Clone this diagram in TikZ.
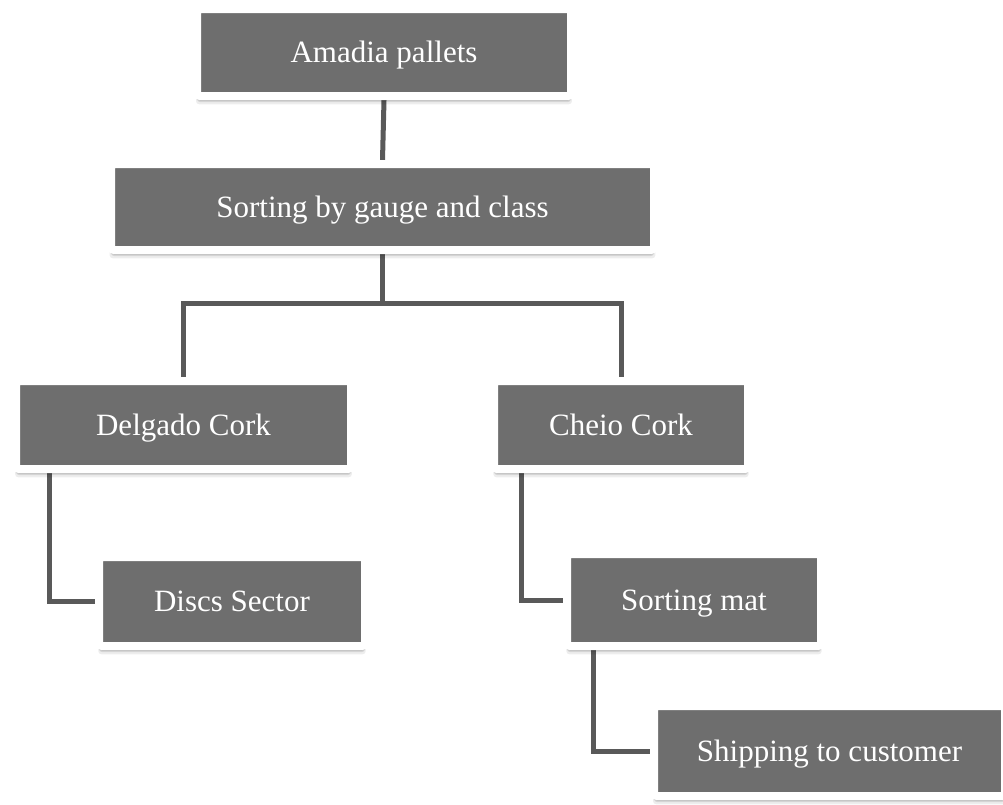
\documentclass[tikz,border=0pt]{standalone}
\usepackage{fontspec}
\setmainfont{Liberation Serif}
\usetikzlibrary{shadows,backgrounds}
\definecolor{boxgray}{HTML}{6E6E6E}
\definecolor{linegray}{HTML}{595959}
\tikzset{
  box/.style={draw=white, line width=8pt, fill=boxgray, text=white, rounded corners=3pt,
    inner sep=0pt, font=\fontsize{31}{36}\selectfont, text height=24pt, text depth=4pt,
    drop shadow={shadow xshift=0pt, shadow yshift=-8pt, shadow scale=1.005, opacity=0.07, fill=black},
    drop shadow={shadow xshift=0pt, shadow yshift=-6pt, opacity=0.10, fill=black},
    drop shadow={shadow xshift=0pt, shadow yshift=-4.8pt, opacity=0.10, fill=black}},
  conn/.style={draw=linegray, line width=5pt}
}
\begin{document}
\begin{tikzpicture}[x=1pt, y=-1pt]
\useasboundingbox (0,0) rectangle (1003,804);
\clip (0,0) rectangle (1003,804);
\node[box, minimum width=374pt, minimum height=87pt] (a) at (384,52.5) {Amadia pallets};
\node[box, minimum width=543pt, minimum height=86pt] (b) at (382.5,207) {Sorting by gauge and class};
\node[box, minimum width=335pt, minimum height=88pt] (c) at (183.5,425) {Delgado Cork};
\node[box, minimum width=254pt, minimum height=88pt] (d) at (621,425) {Cheio Cork};
\node[box, minimum width=266pt, minimum height=89pt] (e) at (232,601.5) {Discs Sector};
\node[box, minimum width=254pt, minimum height=92pt] (f) at (694,600) {Sorting mat};
\node[box, minimum width=351pt, minimum height=90pt] (g) at (829.5,751) {Shipping to customer};
\begin{scope}[on background layer]
\fill[white] (0,0) rectangle (1003,804);
\draw[conn] (a.south) -- (b.north);
\draw[conn] (b.south) -- ++(0,49) -| (c.north);
\draw[conn] (b.south) ++(0,49) -| (d.north);
\draw[conn] ([xshift=37pt]c.south west) |- (e.west);
\draw[conn] ([xshift=31pt]d.south west) |- (f.west);
\draw[conn] ([xshift=30.5pt]f.south west) |- (g.west);
\end{scope}
\end{tikzpicture}
\end{document}
